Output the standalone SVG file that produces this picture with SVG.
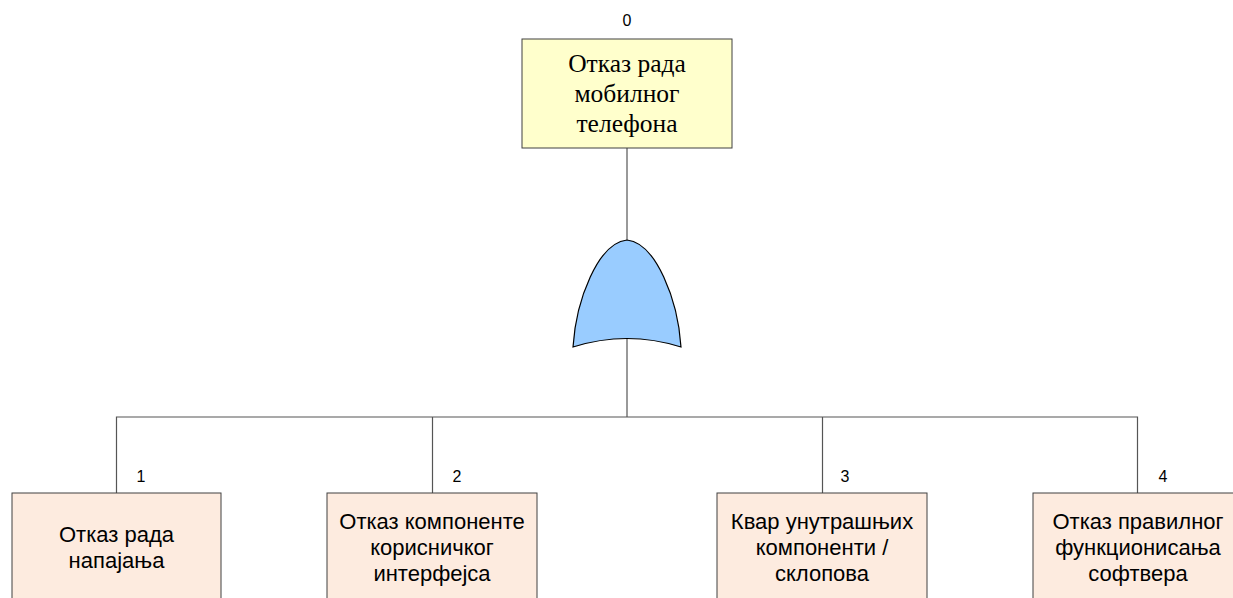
<svg xmlns="http://www.w3.org/2000/svg" width="1233" height="598" viewBox="0 0 1233 598">
  <style>
    .bg { fill: #ffffff; }
    .top { fill: #ffffcc; stroke: #404040; stroke-width: 1; }
    .evt { fill: #fdebdf; stroke: #404040; stroke-width: 1; }
    .gate { fill: #99ccff; stroke: #000000; stroke-width: 1.2; }
    .wire { fill: none; stroke: #555555; stroke-width: 1.2; }
    .tt { font-family: "Liberation Serif", "Times New Roman", serif; font-size: 25.5px; fill: #000; text-anchor: middle; }
    .et { font-family: "Liberation Sans", Arial, sans-serif; font-size: 22px; fill: #000; text-anchor: middle; }
    .num { font-family: "Liberation Sans", Arial, sans-serif; font-size: 16px; fill: #000; text-anchor: middle; }
  </style>
  <rect class="bg" x="0" y="0" width="1233" height="598"/>

  <!-- connectors -->
  <g id="connectors">
    <path class="wire" d="M627,148 V240"/>
    <path class="wire" d="M627,339 V417"/>
    <path class="wire" d="M116.5,493 V417 H1137.5 V493"/>
    <path class="wire" d="M432.5,417 V493"/>
    <path class="wire" d="M822.5,417 V493"/>
  </g>

  <!-- OR gate -->
  <g id="gate-or">
    <path class="gate" d="M573,347 C576,300 598,243 627,240 C656,243 678,300 681,347 Q627,330 573,347 Z"/>
  </g>

  <!-- top event -->
  <g id="node-0">
    <text class="num" x="627" y="26">0</text>
    <rect class="top" x="522" y="39" width="210" height="109"/>
    <text class="tt" x="627" y="72">Отказ рада</text>
    <text class="tt" x="627" y="102">мобилног</text>
    <text class="tt" x="627" y="132">телефона</text>
  </g>

  <!-- basic events -->
  <g id="node-1">
    <text class="num" x="141" y="482">1</text>
    <rect class="evt" x="12" y="493" width="209" height="120"/>
    <text class="et" x="116.5" y="542">Отказ рада</text>
    <text class="et" x="116.5" y="568">напајања</text>
  </g>

  <g id="node-2">
    <text class="num" x="457" y="482">2</text>
    <rect class="evt" x="327" y="493" width="210" height="120"/>
    <text class="et" x="432" y="529">Отказ компоненте</text>
    <text class="et" x="432" y="555">корисничког</text>
    <text class="et" x="432" y="581">интерфејса</text>
  </g>

  <g id="node-3">
    <text class="num" x="845" y="482">3</text>
    <rect class="evt" x="717" y="493" width="210" height="120"/>
    <text class="et" x="822" y="529">Квар унутрашњих</text>
    <text class="et" x="822" y="555">компоненти /</text>
    <text class="et" x="822" y="581">склопова</text>
  </g>

  <g id="node-4">
    <text class="num" x="1163" y="482">4</text>
    <rect class="evt" x="1033" y="493" width="210" height="120"/>
    <text class="et" x="1138" y="529">Отказ правилног</text>
    <text class="et" x="1138" y="555">функционисања</text>
    <text class="et" x="1138" y="581">софтвера</text>
  </g>
</svg>
